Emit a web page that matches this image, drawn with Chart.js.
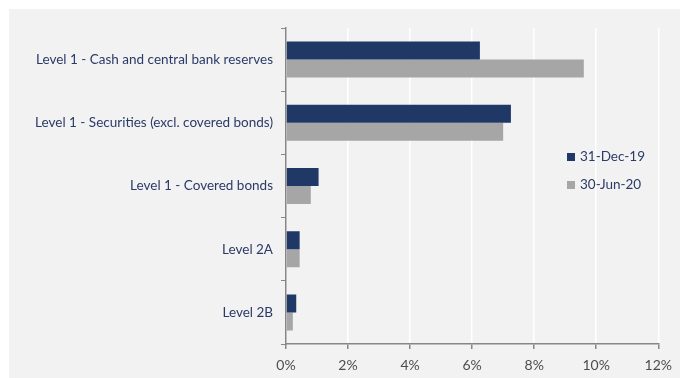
<!DOCTYPE html>
<html lang="en">
<head>
  <meta charset="UTF-8" />
  <title>Liquidity buffer composition</title>
  <script src="https://cdn.jsdelivr.net/npm/chart.js"></script>
  <style>
    html, body { margin: 0; padding: 0; background: #ffffff; }
    #caixa { position: absolute; left: 9px; top: 9px; width: 671px; height: 369px; background: #f2f2f2; }
  </style>
</head>
<body>
  <div id="caixa"><canvas id="grafico" width="671" height="369"></canvas></div>

  <script>
// categorias e valores (% do total)
const rotulos = [
  'Level 1 - Cash and central bank reserves',
  'Level 1 - Securities (excl. covered bonds)',
  'Level 1 - Covered bonds',
  'Level 2A',
  'Level 2B'
];
const dez19 = [6.25, 7.25, 1.05, 0.44, 0.33];
const jun20 = [9.6, 7.0, 0.8, 0.44, 0.22];
const series = ['31-Dec-19', '30-Jun-20'];
const cores = ['#1f3866', '#a6a6a6'];
const ticksX = [0, 2, 4, 6, 8, 10, 12];

const fonte = 'Lato, "Open Sans", sans-serif';

// legenda desenhada dentro da area do grafico
const legendaInterna = {
  id: 'legendaInterna',
  afterDraw(chart) {
    const ctx = chart.ctx;
    ctx.save();
    ctx.font = '13.5px ' + fonte;
    ctx.textBaseline = 'middle';
    ctx.textAlign = 'left';
    chart.data.datasets.forEach((ds, i) => {
      const y = 148 + i * 28;
      ctx.fillStyle = ds.backgroundColor;
      ctx.fillRect(558, y - 4, 8, 8);
      ctx.fillStyle = '#2b3a67';
      ctx.fillText(ds.label, 571, y);
    });
    ctx.restore();
  }
};

new Chart(document.getElementById('grafico'), {
  type: 'bar',
  data: {
    labels: rotulos,
    datasets: [
      { label: series[0], data: dez19, backgroundColor: cores[0] },
      { label: series[1], data: jun20, backgroundColor: cores[1] }
    ]
  },
  options: {
    indexAxis: 'y',
    responsive: false,
    animation: false,
    categoryPercentage: 0.57,
    barPercentage: 1.0,
    layout: { padding: { top: 19, right: 17, bottom: 0, left: 0 } },
    plugins: {
      legend: { display: false },
      tooltip: { enabled: false }
    },
    scales: {
      x: {
        min: 0,
        max: 12,
        afterBuildTicks: s => { s.ticks = ticksX.map(v => ({ value: v })); },
        afterFit: s => { s.height = 34; },
        border: { color: '#868686', width: 1.5 },
        grid: { color: '#ffffff', lineWidth: 1.5, tickColor: '#868686', tickLength: 5 },
        ticks: {
          color: '#4d4d4d',
          padding: 8,
          font: { family: fonte, size: 14 },
          callback: v => v + '%'
        }
      },
      y: {
        afterFit: s => { s.width = 277; },
        border: { color: '#868686', width: 1.5 },
        grid: { drawOnChartArea: false, tickColor: '#868686', tickLength: 5 },
        ticks: {
          color: '#2b3a67',
          padding: 8,
          font: { family: fonte, size: 13.5 }
        }
      }
    }
  },
  plugins: [legendaInterna]
});
  </script>
</body>
</html>
